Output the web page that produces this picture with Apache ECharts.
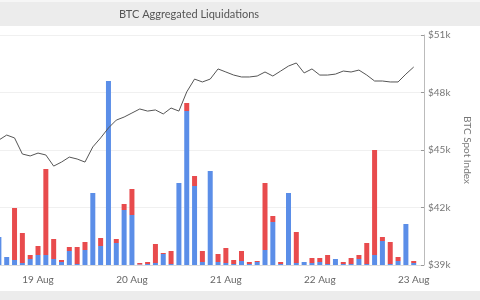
<!DOCTYPE html>
<html>
<head>
<meta charset="utf-8">
<script src="https://cdn.jsdelivr.net/npm/echarts@6/dist/echarts.min.js"></script>
<style>
html,body{margin:0;padding:0;width:480px;height:300px;overflow:hidden;background:#fff;}
#c{position:absolute;left:-40px;top:0;width:520px;height:300px;}
</style>
</head>
<body>
<div id="c"></div>
<script>
// hours relative to 19 Aug 2021 00:00, 2-hour buckets
var hoursFrom19Aug = [-10,-8,-6,-4,-2,0,2,4,6,8,10,12,14,16,18,20,22,24,26,28,30,32,34,36,38,40,42,44,46,48,50,52,54,56,58,60,62,64,66,68,70,72,74,76,78,80,82,84,86,88,90,92,94,96];
// liquidation volumes (relative units)
var shortLiq = [28,8,5,2,6,10,10,6,3,14,1,15,72,19,184,22,55,50,0.5,1,2,11,1,82,154,79,3,94,3,2,1,4,1,3,15,43,1,72,2,3,2,3,1,6,1,1,6,1,10,24,1,4,41,2];
var longLiq  = [0,0,52,30,4,9,86,20,2,4,17,8,0,8,0,4,6,26,1.5,2,19,1,13,0,8,10,11,0,8,15,4,10,2,1,67,6,2,0,31,0,5,4,9,0,2,6,4,21,105,4,22,4,0,2];
// BTC spot index (USD)
var btcPrice = [45520,45780,45630,44790,44690,44840,44740,44160,44370,44630,44530,44370,45160,45630,46150,46560,46720,46930,47140,47030,47090,46880,47190,47030,48030,48700,48550,48700,49230,49070,48910,48810,48810,48860,49070,48860,49120,49380,49540,49020,49230,48910,48910,48960,49120,49070,49170,48910,48600,48600,48550,48550,48960,49330];
var priceTicks = [39000,42000,45000,48000,51000];
var monthNames = ['Jan','Feb','Mar','Apr','May','Jun','Jul','Aug','Sep','Oct','Nov','Dec'];

var base = new Date(2021,7,19,0,0,0).getTime();
var H = 3600000;
function ts(h){return base + h*H;}
var shortData = hoursFrom19Aug.map(function(h,i){return [ts(h), shortLiq[i]];});
var longData  = hoursFrom19Aug.map(function(h,i){return [ts(h), longLiq[i]];});
var priceData = hoursFrom19Aug.map(function(h,i){return [ts(h), btcPrice[i]];});

var chart = echarts.init(document.getElementById('c'), null, {renderer:'canvas'});
chart.setOption({
  animation:false,
  graphic:[
    {type:'rect', shape:{x:0,y:0,width:520,height:26}, style:{fill:'#ececec'}, z:-10},
    {type:'rect', shape:{x:0,y:0,width:520,height:2}, style:{fill:'#f6f6f6'}, z:-9},
    {type:'rect', shape:{x:0,y:291,width:520,height:9}, style:{fill:'#ececec'}, z:-10},
    {type:'text', x:229, y:14, style:{text:'BTC Aggregated Liquidations', fill:'#555', font:'11px Lato', textAlign:'center', textVerticalAlign:'middle'}}
  ],
  grid:{left:28.6, right:48, top:35, bottom:35, containLabel:false},
  xAxis:{
    type:'time',
    min: ts(-12), max: ts(98),
    minInterval: 24*H, maxInterval: 24*H,
    axisLine:{show:true, lineStyle:{color:'#ddd'}},
    axisTick:{show:true, length:3, inside:true, lineStyle:{color:'#888'}},
    splitLine:{show:false},
    axisLabel:{color:'#666', fontSize:10, fontFamily:'Lato', margin:10,
      formatter:function(v){var d=new Date(v);return d.getDate()+' '+monthNames[d.getMonth()];}}
  },
  yAxis:[
    {type:'value', min:0, max:230, show:false, splitLine:{show:false}},
    {type:'value', position:'right', min:39000, max:51000, interval:3000,
      axisLine:{show:true, lineStyle:{color:'#bbb'}},
      axisTick:{show:true, inside:true, length:3, lineStyle:{color:'#999'}},
      splitLine:{show:true, lineStyle:{color:'#f0f0f0'}},
      axisLabel:{color:'#777', fontSize:10, fontFamily:'Lato', margin:4,
        formatter:function(v){return '$'+(v/1000)+'k';}},
      name:'BTC Spot Index', nameLocation:'middle', nameRotate:-90, nameGap:38,
      nameTextStyle:{color:'#777', fontSize:10, fontFamily:'Lato'}
    }
  ],
  series:[
    {name:'Shorts', type:'bar', stack:'liq', yAxisIndex:0, barWidth:5, data:shortData,
      itemStyle:{color:'#5b8ee8'}},
    {name:'Longs', type:'bar', stack:'liq', yAxisIndex:0, barWidth:5, data:longData,
      itemStyle:{color:'#e84b4d'}},
    {name:'BTC Spot Index', type:'line', yAxisIndex:1, data:priceData, symbol:'none',
      lineStyle:{color:'#555', width:1}, z:5}
  ]
});
</script>
</body>
</html>
